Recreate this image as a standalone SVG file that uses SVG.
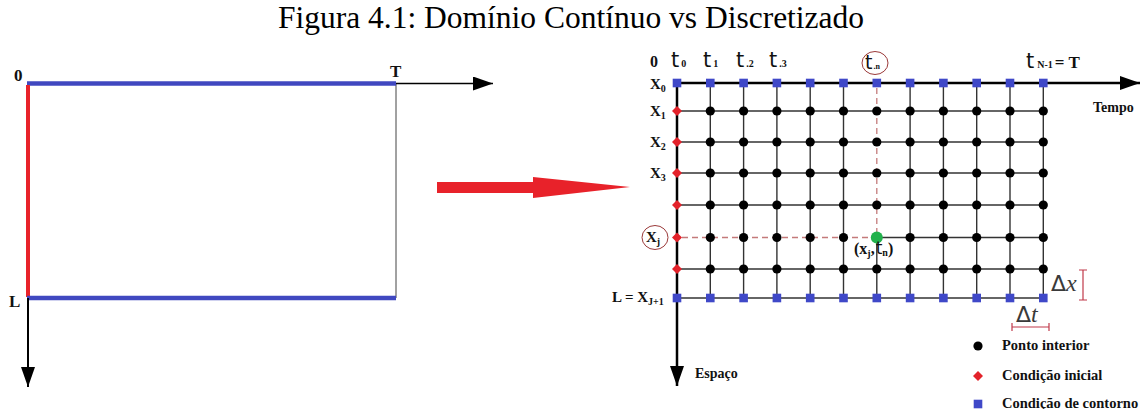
<svg xmlns="http://www.w3.org/2000/svg" width="1144" height="409" viewBox="0 0 1144 409">
<style>
.title{font-family:"Liberation Serif",serif;font-size:31.5px;fill:#000}
.lbl{font-family:"Liberation Serif",serif;font-weight:bold;fill:#111}
.tsym{font-family:"DejaVu Sans",sans-serif;fill:#111;font-weight:normal}
.grid{stroke:#333;stroke-width:1.4;fill:none}
.dash{stroke:#c47a7a;stroke-width:1.3;stroke-dasharray:6 4;fill:none}
.axis{stroke:#000;stroke-width:2.5;fill:none}
.ring{fill:none;stroke:#9b3a3a;stroke-width:1}
.delta{font-family:"DejaVu Sans",sans-serif;fill:#3a3a3a;font-size:22px}
</style>
<defs>
<marker id="ah" viewBox="0 0 20 14" refX="20" refY="7" markerWidth="20" markerHeight="14" markerUnits="userSpaceOnUse" orient="auto">
<path d="M0,0 L20,7 L0,14 Z" fill="#000"/>
</marker>
<g id="pt"><circle r="4.6" fill="#000"/></g>
<g id="dia"><path d="M0,-5 L5,0 L0,5 L-5,0 Z" fill="#e3222a"/></g>
<g id="sq"><rect x="-4.3" y="-4.3" width="8.6" height="8.6" fill="#3f48c8"/></g>
</defs>

<text class="title" x="571" y="28" text-anchor="middle">Figura 4.1: Domínio Contínuo vs Discretizado</text>

<!-- Left: continuous domain -->
<g id="continuous">
<line x1="396" y1="83.5" x2="396" y2="298" stroke="#444" stroke-width="1"/>
<line x1="27" y1="83.5" x2="396" y2="83.5" stroke="#4048c0" stroke-width="4.5"/>
<line x1="28" y1="85" x2="28" y2="297" stroke="#e8222a" stroke-width="4"/>
<line x1="27" y1="298" x2="396" y2="298" stroke="#4048c0" stroke-width="4.5"/>
<line x1="396" y1="83.5" x2="493" y2="83.5" stroke="#000" stroke-width="1.6" marker-end="url(#ah)"/>
<line x1="28" y1="298" x2="28" y2="387" stroke="#000" stroke-width="2" marker-end="url(#ah)"/>
<text class="lbl" x="14" y="81" font-size="17">0</text>
<text class="lbl" x="390" y="77" font-size="17">T</text>
<text class="lbl" x="9" y="307" font-size="17">L</text>
</g>

<!-- Transition arrow -->
<g id="transition">
<path d="M437,182 L533,182 L533,177 L630,187 L533,198 L533,193 L437,193 Z" fill="#e8222a"/>
</g>

<!-- Right: discretized grid -->
<g id="grid-lines">
<line class="grid" x1="677" y1="111" x2="1043.3" y2="111"/>
<line class="grid" x1="677" y1="142" x2="1043.3" y2="142"/>
<line class="grid" x1="677" y1="173" x2="1043.3" y2="173"/>
<line class="grid" x1="677" y1="205" x2="1043.3" y2="205"/>
<line class="grid" x1="876.8" y1="237.5" x2="1043.3" y2="237.5"/>
<line class="grid" x1="677" y1="269" x2="1043.3" y2="269"/>
<line class="grid" x1="677" y1="298" x2="1043.3" y2="298"/>
<line class="grid" x1="710.3" y1="83" x2="710.3" y2="298"/>
<line class="grid" x1="743.6" y1="83" x2="743.6" y2="298"/>
<line class="grid" x1="776.9" y1="83" x2="776.9" y2="298"/>
<line class="grid" x1="810.2" y1="83" x2="810.2" y2="298"/>
<line class="grid" x1="843.5" y1="83" x2="843.5" y2="298"/>
<line class="grid" x1="876.8" y1="237.5" x2="876.8" y2="298"/>
<line class="grid" x1="910.1" y1="83" x2="910.1" y2="298"/>
<line class="grid" x1="943.4" y1="83" x2="943.4" y2="298"/>
<line class="grid" x1="976.7" y1="83" x2="976.7" y2="298"/>
<line class="grid" x1="1010" y1="83" x2="1010" y2="298"/>
<line class="grid" x1="1043.3" y1="83" x2="1043.3" y2="298"/>
<line class="dash" x1="876.8" y1="88" x2="876.8" y2="232"/>
<line class="dash" x1="682" y1="237.5" x2="871" y2="237.5"/>
<line class="axis" x1="677" y1="83" x2="1140" y2="83" marker-end="url(#ah)"/>
<line class="axis" x1="677" y1="83" x2="677" y2="386" marker-end="url(#ah)"/>
</g>

<g id="boundary-points">
<use href="#sq" x="677" y="83"/><use href="#sq" x="710.3" y="83"/><use href="#sq" x="743.6" y="83"/><use href="#sq" x="776.9" y="83"/><use href="#sq" x="810.2" y="83"/><use href="#sq" x="843.5" y="83"/><use href="#sq" x="876.8" y="83"/><use href="#sq" x="910.1" y="83"/><use href="#sq" x="943.4" y="83"/><use href="#sq" x="976.7" y="83"/><use href="#sq" x="1010" y="83"/><use href="#sq" x="1043.3" y="83"/>
<use href="#sq" x="677" y="298"/><use href="#sq" x="710.3" y="298"/><use href="#sq" x="743.6" y="298"/><use href="#sq" x="776.9" y="298"/><use href="#sq" x="810.2" y="298"/><use href="#sq" x="843.5" y="298"/><use href="#sq" x="876.8" y="298"/><use href="#sq" x="910.1" y="298"/><use href="#sq" x="943.4" y="298"/><use href="#sq" x="976.7" y="298"/><use href="#sq" x="1010" y="298"/><use href="#sq" x="1043.3" y="298"/>
</g>

<g id="initial-points">
<use href="#dia" x="677" y="111"/><use href="#dia" x="677" y="142"/><use href="#dia" x="677" y="173"/><use href="#dia" x="677" y="205"/><use href="#dia" x="677" y="237.5"/><use href="#dia" x="677" y="269"/>
</g>

<g id="interior-points">
<use href="#pt" x="710.3" y="111"/><use href="#pt" x="743.6" y="111"/><use href="#pt" x="776.9" y="111"/><use href="#pt" x="810.2" y="111"/><use href="#pt" x="843.5" y="111"/><use href="#pt" x="876.8" y="111"/><use href="#pt" x="910.1" y="111"/><use href="#pt" x="943.4" y="111"/><use href="#pt" x="976.7" y="111"/><use href="#pt" x="1010" y="111"/><use href="#pt" x="1043.3" y="111"/>
<use href="#pt" x="710.3" y="142"/><use href="#pt" x="743.6" y="142"/><use href="#pt" x="776.9" y="142"/><use href="#pt" x="810.2" y="142"/><use href="#pt" x="843.5" y="142"/><use href="#pt" x="876.8" y="142"/><use href="#pt" x="910.1" y="142"/><use href="#pt" x="943.4" y="142"/><use href="#pt" x="976.7" y="142"/><use href="#pt" x="1010" y="142"/><use href="#pt" x="1043.3" y="142"/>
<use href="#pt" x="710.3" y="173"/><use href="#pt" x="743.6" y="173"/><use href="#pt" x="776.9" y="173"/><use href="#pt" x="810.2" y="173"/><use href="#pt" x="843.5" y="173"/><use href="#pt" x="876.8" y="173"/><use href="#pt" x="910.1" y="173"/><use href="#pt" x="943.4" y="173"/><use href="#pt" x="976.7" y="173"/><use href="#pt" x="1010" y="173"/><use href="#pt" x="1043.3" y="173"/>
<use href="#pt" x="710.3" y="205"/><use href="#pt" x="743.6" y="205"/><use href="#pt" x="776.9" y="205"/><use href="#pt" x="810.2" y="205"/><use href="#pt" x="843.5" y="205"/><use href="#pt" x="876.8" y="205"/><use href="#pt" x="910.1" y="205"/><use href="#pt" x="943.4" y="205"/><use href="#pt" x="976.7" y="205"/><use href="#pt" x="1010" y="205"/><use href="#pt" x="1043.3" y="205"/>
<use href="#pt" x="710.3" y="237.5"/><use href="#pt" x="743.6" y="237.5"/><use href="#pt" x="776.9" y="237.5"/><use href="#pt" x="810.2" y="237.5"/><use href="#pt" x="843.5" y="237.5"/><use href="#pt" x="910.1" y="237.5"/><use href="#pt" x="943.4" y="237.5"/><use href="#pt" x="976.7" y="237.5"/><use href="#pt" x="1010" y="237.5"/><use href="#pt" x="1043.3" y="237.5"/>
<use href="#pt" x="710.3" y="269"/><use href="#pt" x="743.6" y="269"/><use href="#pt" x="776.9" y="269"/><use href="#pt" x="810.2" y="269"/><use href="#pt" x="843.5" y="269"/><use href="#pt" x="876.8" y="269"/><use href="#pt" x="910.1" y="269"/><use href="#pt" x="943.4" y="269"/><use href="#pt" x="976.7" y="269"/><use href="#pt" x="1010" y="269"/><use href="#pt" x="1043.3" y="269"/>
</g>

<g id="point-xj-tn">
<circle cx="876.8" cy="237.5" r="6" fill="#22b14c"/>
<text class="lbl" x="854" y="254" font-size="16">(x<tspan font-size="10" dy="3">j</tspan><tspan dy="-3">,</tspan><tspan class="tsym" font-size="17" dx="1">t</tspan><tspan font-size="10" dy="2">n</tspan><tspan dy="-2">)</tspan></text>
</g>

<g id="time-labels">
<text class="lbl" x="650" y="67" font-size="16">0</text>
<text x="671" y="67"><tspan class="tsym" font-size="21">t</tspan><tspan class="lbl" font-size="10" dx="2">0</tspan></text>
<text x="703" y="67"><tspan class="tsym" font-size="21">t</tspan><tspan class="lbl" font-size="10" dx="2">1</tspan></text>
<text x="736" y="67"><tspan class="tsym" font-size="21">t</tspan><tspan class="lbl" font-size="10" dx="2">.2</tspan></text>
<text x="769" y="67"><tspan class="tsym" font-size="21">t</tspan><tspan class="lbl" font-size="10" dx="2">.3</tspan></text>
<ellipse class="ring" cx="875" cy="63" rx="13" ry="11.5"/>
<text x="865" y="69"><tspan class="tsym" font-size="19">t</tspan><tspan class="lbl" font-size="8" dx="1">.n</tspan></text>
<text x="1026" y="68"><tspan class="tsym" font-size="21">t</tspan><tspan class="lbl" font-size="10" dx="3">N-1</tspan><tspan class="lbl" font-size="17" dx="2">= T</tspan></text>
<text class="lbl" x="1093" y="112" font-size="14">Tempo</text>
<text class="lbl" x="695" y="378" font-size="14">Espaço</text>
</g>

<g id="space-labels">
<text class="lbl" x="650" y="89" font-size="15">X<tspan font-size="10" dy="3">0</tspan></text>
<text class="lbl" x="650" y="116" font-size="15">X<tspan font-size="10" dy="3">1</tspan></text>
<text class="lbl" x="650" y="147" font-size="15">X<tspan font-size="10" dy="3">2</tspan></text>
<text class="lbl" x="650" y="178" font-size="15">X<tspan font-size="10" dy="3">3</tspan></text>
<ellipse class="ring" cx="655" cy="237.5" rx="13" ry="12"/>
<text class="lbl" x="646" y="242" font-size="15">X<tspan font-size="10" dy="3">j</tspan></text>
<text class="lbl" x="612" y="302" font-size="15">L = X<tspan font-size="10" dy="3">J+1</tspan></text>
</g>

<g id="steps">
<text class="delta" x="1051" y="291">Δ<tspan font-family="Liberation Serif" font-style="italic" font-size="24">x</tspan></text>
<path d="M1083,270 V300 M1079,270 H1087 M1079,300 H1087" stroke="#c0394a" stroke-width="1.2" fill="none"/>
<text class="delta" x="1016" y="322">Δ<tspan font-family="Liberation Serif" font-style="italic" font-size="24">t</tspan></text>
<path d="M1012,327 H1049 M1012,323 V331 M1049,323 V331" stroke="#c0394a" stroke-width="1.2" fill="none"/>
</g>

<g id="legend">
<use href="#pt" x="978" y="346"/>
<text class="lbl" x="1002" y="350" font-size="14.5">Ponto interior</text>
<use href="#dia" x="978" y="376"/>
<text class="lbl" x="1002" y="380" font-size="14.5">Condição inicial</text>
<use href="#sq" x="978" y="404"/>
<text class="lbl" x="1002" y="408" font-size="14.5">Condição de contorno</text>
</g>
</svg>
